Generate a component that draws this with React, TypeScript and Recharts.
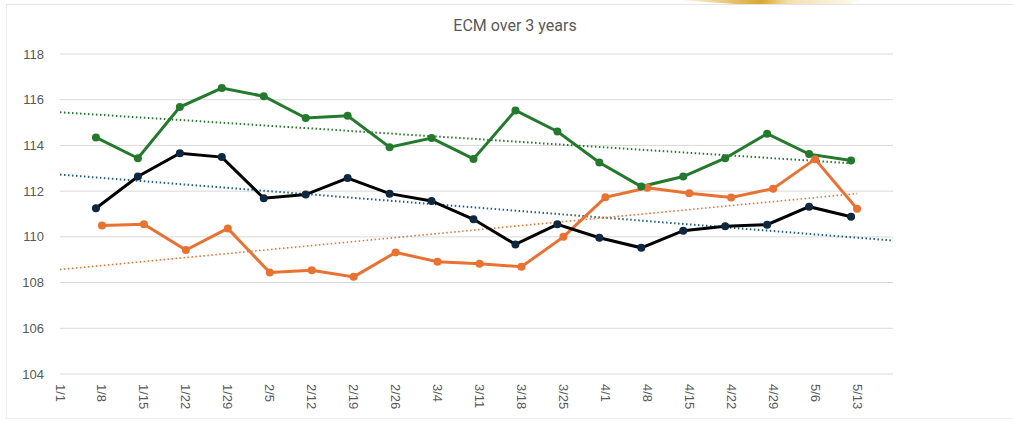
import React from 'react'
import { LineChart, Line, XAxis, YAxis, CartesianGrid } from 'recharts'

// weekly dates as day-of-year offsets from 1/1
const tickDays = [0, 7, 14, 21, 28, 35, 42, 49, 56, 63, 70, 77, 84, 91, 98, 105, 112, 119, 126, 133]
const tickLabels = ['1/1', '1/8', '1/15', '1/22', '1/29', '2/5', '2/12', '2/19', '2/26', '3/4', '3/11', '3/18', '3/25', '4/1', '4/8', '4/15', '4/22', '4/29', '5/6', '5/13']
const yTicks = [104, 106, 108, 110, 112, 114, 116, 118]

// two of the years were read on the same weekday, the third one day later
const sundayDays = [6, 13, 20, 27, 34, 41, 48, 55, 62, 69, 76, 83, 90, 97, 104, 111, 118, 125, 132]
const mondayDays = [7, 14, 21, 28, 35, 42, 49, 56, 63, 70, 77, 84, 91, 98, 105, 112, 119, 126, 133]

const yearA = [114.35, 113.44, 115.68, 116.51, 116.15, 115.2, 115.3, 113.92, 114.32, 113.41, 115.53, 114.61, 113.25, 112.2, 112.64, 113.44, 114.51, 113.62, 113.34]
const yearB = [111.25, 112.64, 113.66, 113.49, 111.69, 111.85, 112.57, 111.89, 111.57, 110.77, 109.67, 110.55, 109.96, 109.52, 110.27, 110.46, 110.53, 111.32, 110.88]
const yearC = [110.5, 110.55, 109.42, 110.37, 108.44, 108.54, 108.25, 109.32, 108.91, 108.82, 108.69, 110.0, 111.73, 112.15, 111.91, 111.72, 112.11, 113.4, 111.23]

const GREEN = '#237a2c'
const BLACK = '#000000'
const NAVY = '#0e2841'
const ORANGE = '#e97132'
const TREND_BLUE = '#1f5f87'
const GRAY_TEXT = '#595959'

type Pt = { day: number; value: number }

const toPoints = (days: number[], values: number[]): Pt[] =>
  values.map((v, i) => ({ day: days[i], value: v }))

// least-squares line, drawn from startDay to endDay
function trend(days: number[], values: number[], startDay: number, endDay: number): Pt[] {
  const n = values.length
  const mx = days.reduce((s, d) => s + d, 0) / n
  const my = values.reduce((s, v) => s + v, 0) / n
  let sxy = 0
  let sxx = 0
  for (let i = 0; i < n; i++) {
    sxy += (days[i] - mx) * (values[i] - my)
    sxx += (days[i] - mx) ** 2
  }
  const slope = sxy / sxx
  const at = (d: number) => my + slope * (d - mx)
  return [
    { day: startDay, value: at(startDay) },
    { day: endDay, value: at(endDay) },
  ]
}

const XTick = (props: any) => {
  const { x, y, index } = props
  return (
    <text
      transform={`translate(${x},${y + 2}) rotate(90)`}
      textAnchor="start"
      dominantBaseline="central"
      fontSize={13}
      fill={GRAY_TEXT}
      fontFamily="'Liberation Sans', Arial, sans-serif"
    >
      {tickLabels[index]}
    </text>
  )
}

const YTick = (props: any) => {
  const { y, payload } = props
  return (
    <text
      x={44}
      y={y}
      textAnchor="end"
      dominantBaseline="central"
      fontSize={13}
      fill={GRAY_TEXT}
      fontFamily="'Liberation Sans', Arial, sans-serif"
    >
      {payload.value}
    </text>
  )
}

export default function App() {
  const greenPts = toPoints(sundayDays, yearA)
  const blackPts = toPoints(sundayDays, yearB)
  const orangePts = toPoints(mondayDays, yearC)

  return (
    <div style={{ position: 'absolute', left: 0, top: 0, width: 1013, height: 421, background: '#fff' }}>
      <div
        style={{
          position: 'absolute',
          left: 6,
          top: 4,
          width: 1007,
          height: 413,
          borderTop: '1px solid #e4e4e4',
          borderLeft: '1px solid #ededed',
          borderBottom: '1px solid #ededed',
        }}
      />
      <svg width={1013} height={12} style={{ position: 'absolute', left: 0, top: 0 }}>
        <defs>
          <linearGradient id="swoosh" x1="0" x2="1" y1="0" y2="0">
            <stop offset="0" stopColor="#fdf6e6" />
            <stop offset="0.45" stopColor="#d9a62e" />
            <stop offset="0.6" stopColor="#f2dfae" />
            <stop offset="1" stopColor="#fffaf0" />
          </linearGradient>
        </defs>
        <path d="M 680 0 L 860 0 L 850 4 L 735 4 Q 705 2 680 0 Z" fill="url(#swoosh)" />
      </svg>
      <div
        style={{
          position: 'absolute',
          left: 0,
          top: 16,
          width: 1030,
          textAlign: 'center',
          fontFamily: "Roboto, 'Liberation Sans', sans-serif",
          fontSize: 16,
          color: GRAY_TEXT,
        }}
      >
        ECM over 3 years
      </div>
      <LineChart
        width={1013}
        height={421}
        margin={{ top: 54, right: 120, bottom: 3, left: 0 }}
        style={{ position: 'absolute', left: 0, top: 0 }}
      >
        <CartesianGrid vertical={false} stroke="#d9d9d9" />
        <XAxis
          type="number"
          dataKey="day"
          domain={[0, 139]}
          ticks={tickDays}
          interval={0}
          height={44}
          axisLine={false}
          tickLine={false}
          tick={<XTick />}
          allowDuplicatedCategory={false}
        />
        <YAxis
          domain={[104, 118]}
          ticks={yTicks}
          width={60}
          axisLine={false}
          tickLine={false}
          tick={<YTick />}
        />
        <Line data={trend(sundayDays, yearA, 0, 132)} dataKey="value" stroke={GREEN} strokeWidth={2} strokeDasharray="1.5 2.5" dot={false} isAnimationActive={false} />
        <Line data={trend(sundayDays, yearB, 0, 139)} dataKey="value" stroke={TREND_BLUE} strokeWidth={2} strokeDasharray="1.5 2.5" dot={false} isAnimationActive={false} />
        <Line data={trend(mondayDays, yearC, 0, 133)} dataKey="value" stroke={ORANGE} strokeWidth={1.6} strokeDasharray="1.5 2.5" dot={false} isAnimationActive={false} />
        <Line data={orangePts} dataKey="value" stroke={ORANGE} strokeWidth={3} dot={{ r: 4, fill: ORANGE, stroke: ORANGE, strokeWidth: 0 }} isAnimationActive={false} />
        <Line data={blackPts} dataKey="value" stroke={BLACK} strokeWidth={3} dot={{ r: 4, fill: NAVY, stroke: NAVY, strokeWidth: 0 }} isAnimationActive={false} />
        <Line data={greenPts} dataKey="value" stroke={GREEN} strokeWidth={3} dot={{ r: 4, fill: GREEN, stroke: GREEN, strokeWidth: 0 }} isAnimationActive={false} />
      </LineChart>
    </div>
  )
}
